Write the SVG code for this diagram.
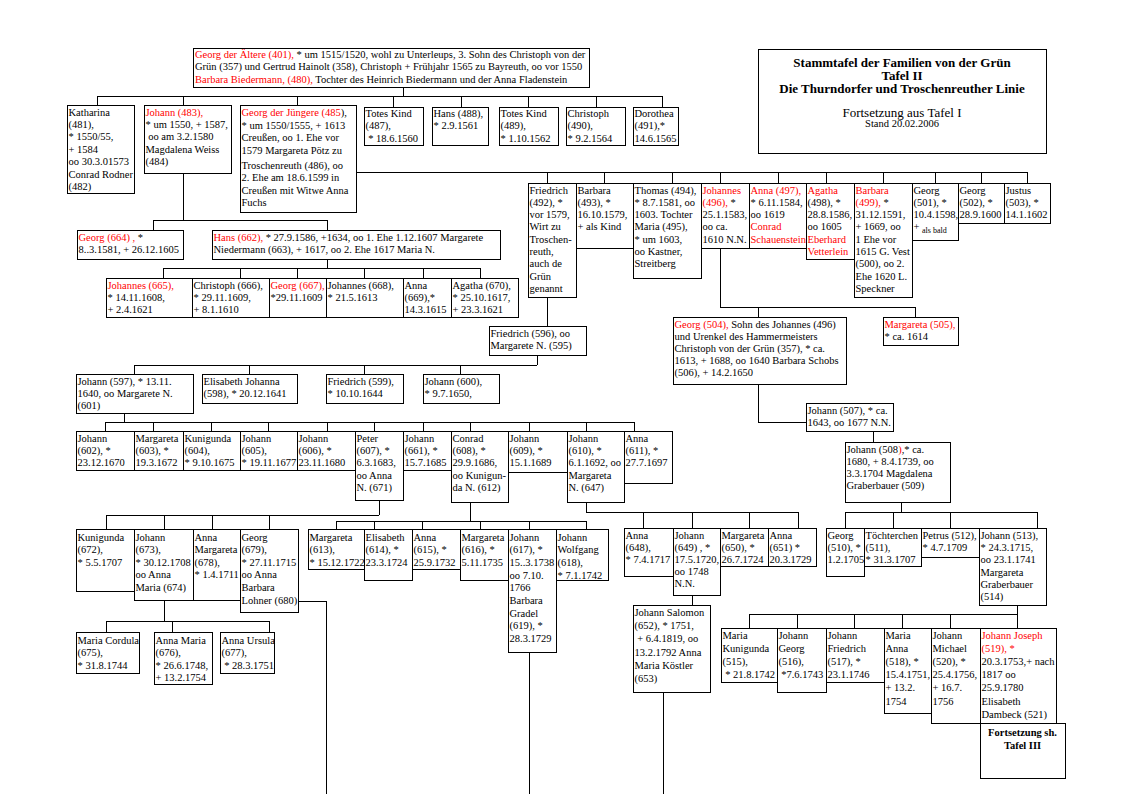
<svg xmlns="http://www.w3.org/2000/svg" width="1123" height="794" viewBox="0 0 1123 794">
<style>
text{font-family:"Liberation Serif","Times New Roman",serif;font-size:10.5px;fill:#000}
.r{fill:#f00}
.b{fill:#fff;stroke:#000;stroke-width:1;shape-rendering:crispEdges}
.c{fill:none;stroke:#000;stroke-width:1;shape-rendering:crispEdges}
.bd{font-weight:bold}
.sm{font-size:8px}
</style>
<rect width="1123" height="794" fill="#fff"/>
<g id="connectors">
<path class="c" d="M403,87V96M97,96H662M97,96V105M183,96V105M297,96V105M393,96V107M461,96V107M528,96V107M596,96V107M662,96V107
M183,173V220M153,220H327M153,220V230M327,220V230
M327,259V268M163,268H480M163,268V278M240,268V278M297,268V278M364,268V278M423,268V278M480,268V278
M356,172H1027M547,172V183M604,172V183M672,172V183M720,172V183M778,172V183M826,172V183M883,172V183M935,172V183M981,172V183M1027,172V183
M547,297V326
M537,355V365M134,365H537M134,365V374M249,365V374M364,365V374M460,365V374
M124,413V422M105,422H634M105,422V431M153,422V431M211,422V431M268,422V431M327,422V431M374,422V431M423,422V431M470,422V431M529,422V431M586,422V431M634,422V431
M379,500V515M106,515H379M106,515V529M164,515V529M212,515V529M269,515V529
M470,502V521M336,521H586M336,521V529M374,521V529M422,521V529M480,521V529M529,521V529M586,521V529
M586,502V512H798M643,512V528M692,512V528M749,512V528M798,512V528
M298,601H326V794
M529,652V794
M692,595V605
M663,692V794
M164,600V621M106,621H269M106,621V632M172,621V632M269,621V632
M720,248V307H915M758,307V317M915,307V317
M758,384V422H806
M873,431V442
M901,502V512M845,512H1037M845,512V528M893,512V528M950,512V528M1037,512V528
M1017,605V614M749,614H1017M749,614V628M797,614V628M854,614V628M902,614V628M950,614V628M1017,614V628"/>
</g>
<g id="title"><rect class="b" x="758" y="49" width="288" height="104"/>
<text x="902" y="67" text-anchor="middle" class="bd" style="font-size:13px">Stammtafel der Familien von der Grün<tspan x="902" dy="13">Tafel II</tspan><tspan x="902" dy="13">Die Thurndorfer und Troschenreuther Linie</tspan></text>
<text x="902" y="117" text-anchor="middle" style="font-size:13px">Fortsetzung aus Tafel I</text>
<text x="902" y="127" text-anchor="middle">Stand 20.02.2006</text></g>
<g id="n401"><rect class="b" x="193" y="48" width="396" height="39"/><text x="195" y="57.5"><tspan class="r">Georg der Ältere (401),</tspan> * um 1515/1520, wohl zu Unterleups, 3. Sohn des Christoph von der<tspan x="195" dy="12.5">Grün (357) und Gertrud Hainolt (358), Christoph + Frühjahr 1565 zu Bayreuth, oo vor 1550</tspan><tspan x="195" dy="12.5" class="r">Barbara Biedermann, (480),</tspan><tspan> Tochter des Heinrich Biedermann und der Anna Fladenstein</tspan></text></g>
<g id="n481"><rect class="b" x="67" y="105" width="67" height="88"/><text x="68.5" y="115.5">Katharina<tspan x="68.5" dy="12.4">(481),</tspan><tspan x="68.5" dy="12.4">* 1550/55,</tspan><tspan x="68.5" dy="12.4">+ 1584</tspan><tspan x="68.5" dy="12.4">oo 30.3.01573</tspan><tspan x="68.5" dy="12.4">Conrad Rodner</tspan><tspan x="68.5" dy="12.4">(482)</tspan></text></g>
<g id="n483"><rect class="b" x="144" y="105" width="87" height="68"/><text x="145.5" y="115.5"><tspan class="r">Johann (483),</tspan><tspan x="145.5" dy="12.4">* um 1550, + 1587,</tspan><tspan x="145.5" dy="12.4"> oo am 3.2.1580</tspan><tspan x="145.5" dy="12.4">Magdalena Weiss</tspan><tspan x="145.5" dy="12.4">(484)</tspan></text></g>
<g id="n485"><rect class="b" x="240" y="105" width="116" height="107"/><text x="241.5" y="116"><tspan class="r">Georg der Jüngere (485</tspan>),<tspan x="241.5" dy="12.5">* um 1550/1555, + 1613</tspan><tspan x="241.5" dy="12.5">Creußen, oo 1. Ehe vor</tspan><tspan x="241.5" dy="12.5">1579 Margareta Pötz zu</tspan><tspan x="241.5" dy="15">Troschenreuth (486), oo</tspan><tspan x="241.5" dy="12.5">2. Ehe am 18.6.1599 in</tspan><tspan x="241.5" dy="12.5">Creußen mit Witwe Anna</tspan><tspan x="241.5" dy="12.5">Fuchs</tspan></text></g>
<g id="n487"><rect class="b" x="364" y="107" width="59" height="38"/><text x="365.5" y="117">Totes Kind<tspan x="365.5" dy="12.4">(487),</tspan><tspan x="365.5" dy="12.4"> * 18.6.1560</tspan></text></g>
<g id="n488"><rect class="b" x="432" y="107" width="56" height="38"/><text x="433.5" y="117">Hans (488),<tspan x="433.5" dy="12.4">* 2.9.1561</tspan></text></g>
<g id="n489"><rect class="b" x="499" y="107" width="59" height="38"/><text x="500.5" y="117">Totes Kind<tspan x="500.5" dy="12.4">(489),</tspan><tspan x="500.5" dy="12.4">* 1.10.1562</tspan></text></g>
<g id="n490"><rect class="b" x="566" y="107" width="59" height="38"/><text x="567.5" y="117">Christoph<tspan x="567.5" dy="12.4">(490),</tspan><tspan x="567.5" dy="12.4">* 9.2.1564</tspan></text></g>
<g id="n491"><rect class="b" x="633" y="107" width="45" height="38"/><text x="634.5" y="117">Dorothea<tspan x="634.5" dy="12.4">(491),*</tspan><tspan x="634.5" dy="12.4">14.6.1565</tspan></text></g>
<g id="n492"><rect class="b" x="528" y="183" width="48" height="114"/><text x="529.5" y="193.5">Friedrich<tspan x="529.5" dy="12.3">(492), *</tspan><tspan x="529.5" dy="12.3">vor 1579,</tspan><tspan x="529.5" dy="12.3">Wirt zu</tspan><tspan x="529.5" dy="12.3">Troschen-</tspan><tspan x="529.5" dy="12.3">reuth,</tspan><tspan x="529.5" dy="12.3">auch de</tspan><tspan x="529.5" dy="12.3">Grün</tspan><tspan x="529.5" dy="12.3">genannt</tspan></text></g>
<g id="n493"><rect class="b" x="576" y="183" width="57" height="65"/><text x="577.5" y="193.5">Barbara<tspan x="577.5" dy="12.3">(493), *</tspan><tspan x="577.5" dy="12.3">16.10.1579,</tspan><tspan x="577.5" dy="12.3">+ als Kind</tspan></text></g>
<g id="n494"><rect class="b" x="633" y="183" width="68" height="95"/><text x="634.5" y="193.5">Thomas (494),<tspan x="634.5" dy="12.3">* 8.7.1581, oo</tspan><tspan x="634.5" dy="12.3">1603. Tochter</tspan><tspan x="634.5" dy="12.3">Maria (495),</tspan><tspan x="634.5" dy="12.3">* um 1603,</tspan><tspan x="634.5" dy="12.3">oo Kastner,</tspan><tspan x="634.5" dy="12.3">Streitberg</tspan></text></g>
<g id="n496"><rect class="b" x="701" y="183" width="48" height="65"/><text x="702.5" y="193.5"><tspan class="r">Johannes</tspan><tspan x="702.5" dy="12.3" class="r">(496),</tspan><tspan> *</tspan><tspan x="702.5" dy="12.3">25.1.1583,</tspan><tspan x="702.5" dy="12.3">oo ca.</tspan><tspan x="702.5" dy="12.3">1610 N.N.</tspan></text></g>
<g id="n497"><rect class="b" x="749" y="183" width="57" height="65"/><text x="750.5" y="193.5"><tspan class="r">Anna (497),</tspan><tspan x="750.5" dy="12.3">* 6.11.1584,</tspan><tspan x="750.5" dy="12.3">oo 1619</tspan><tspan x="750.5" dy="12.3" class="r">Conrad</tspan><tspan x="750.5" dy="12.3" class="r">Schauenstein</tspan></text></g>
<g id="n498"><rect class="b" x="806" y="183" width="48" height="76"/><text x="807.5" y="193.5"><tspan class="r">Agatha</tspan><tspan x="807.5" dy="12.3">(498), *</tspan><tspan x="807.5" dy="12.3">28.8.1586,</tspan><tspan x="807.5" dy="12.3">oo 1605</tspan><tspan x="807.5" dy="12.3" class="r">Eberhard</tspan><tspan x="807.5" dy="12.3" class="r">Vetterlein</tspan></text></g>
<g id="n499"><rect class="b" x="854" y="183" width="58" height="114"/><text x="855.5" y="193.5"><tspan class="r">Barbara</tspan><tspan x="855.5" dy="12.3" class="r">(499),</tspan><tspan> *</tspan><tspan x="855.5" dy="12.3">31.12.1591,</tspan><tspan x="855.5" dy="12.3">+ 1669, oo</tspan><tspan x="855.5" dy="12.3">1 Ehe vor</tspan><tspan x="855.5" dy="12.3">1615 G. Vest</tspan><tspan x="855.5" dy="12.3">(500), oo 2.</tspan><tspan x="855.5" dy="12.3">Ehe 1620 L.</tspan><tspan x="855.5" dy="12.3">Speckner</tspan></text></g>
<g id="n501"><rect class="b" x="912" y="183" width="46" height="57"/><text x="913.5" y="193.5">Georg<tspan x="913.5" dy="12.3">(501), *</tspan><tspan x="913.5" dy="12.3">10.4.1598,</tspan><tspan x="913.5" dy="12.3">+ </tspan><tspan class="sm" dy="3">als bald</tspan></text></g>
<g id="n502"><rect class="b" x="958" y="183" width="46" height="40"/><text x="959.5" y="193.5">Georg<tspan x="959.5" dy="12.3">(502), *</tspan><tspan x="959.5" dy="12.3">28.9.1600</tspan></text></g>
<g id="n503"><rect class="b" x="1004" y="183" width="46" height="40"/><text x="1005.5" y="193.5">Justus<tspan x="1005.5" dy="12.3">(503), *</tspan><tspan x="1005.5" dy="12.3">14.1.1602</tspan></text></g>
<g id="n664"><rect class="b" x="77" y="230" width="106" height="29"/><text x="78.5" y="240.5"><tspan class="r">Georg (664) ,</tspan> *<tspan x="78.5" dy="12.4">8..3.1581, + 26.12.1605</tspan></text></g>
<g id="n662"><rect class="b" x="212" y="230" width="288" height="29"/><text x="213.5" y="240.5"><tspan class="r">Hans (662),</tspan> * 27.9.1586, +1634, oo 1. Ehe 1.12.1607 Margarete<tspan x="213.5" dy="12.4">Niedermann (663), + 1617, oo 2. Ehe 1617 Maria N.</tspan></text></g>
<g id="n665"><rect class="b" x="106" y="278" width="86" height="39"/><text x="107.5" y="288.5"><tspan class="r">Johannes (665),</tspan><tspan x="107.5" dy="12.4">* 14.11.1608,</tspan><tspan x="107.5" dy="12.4">+ 2.4.1621</tspan></text></g>
<g id="n666"><rect class="b" x="192" y="278" width="77" height="39"/><text x="193.5" y="288.5">Christoph (666),<tspan x="193.5" dy="12.4">* 29.11.1609,</tspan><tspan x="193.5" dy="12.4">+ 8.1.1610</tspan></text></g>
<g id="n667"><rect class="b" x="269" y="278" width="57" height="39"/><text x="270.5" y="288.5"><tspan class="r">Georg (667),</tspan><tspan x="270.5" dy="12.4">*29.11.1609</tspan></text></g>
<g id="n668"><rect class="b" x="326" y="278" width="77" height="39"/><text x="327.5" y="288.5">Johannes (668),<tspan x="327.5" dy="12.4">* 21.5.1613</tspan></text></g>
<g id="n669"><rect class="b" x="403" y="278" width="48" height="39"/><text x="404.5" y="288.5">Anna<tspan x="404.5" dy="12.4">(669),*</tspan><tspan x="404.5" dy="12.4">14.3.1615</tspan></text></g>
<g id="n670"><rect class="b" x="451" y="278" width="67" height="39"/><text x="452.5" y="288.5">Agatha (670),<tspan x="452.5" dy="12.4">* 25.10.1617,</tspan><tspan x="452.5" dy="12.4">+ 23.3.1621</tspan></text></g>
<g id="n596"><rect class="b" x="489" y="326" width="97" height="29"/><text x="490.5" y="336.5">Friedrich (596), oo<tspan x="490.5" dy="12.4">Margarete N. (595)</tspan></text></g>
<g id="n504"><rect class="b" x="673" y="317" width="173" height="67"/><text x="674.5" y="327.5"><tspan class="r">Georg (504),</tspan> Sohn des Johannes (496)<tspan x="674.5" dy="12.2">und Urenkel des Hammermeisters</tspan><tspan x="674.5" dy="12.2">Christoph von der Grün (357), * ca.</tspan><tspan x="674.5" dy="12.2">1613, + 1688, oo 1640 Barbara Schobs</tspan><tspan x="674.5" dy="12.2">(506), + 14.2.1650</tspan></text></g>
<g id="n505"><rect class="b" x="883" y="317" width="75" height="28"/><text x="884.5" y="327.5"><tspan class="r">Margareta (505),</tspan><tspan x="884.5" dy="12.2">* ca. 1614</tspan></text></g>
<g id="n597"><rect class="b" x="76" y="374" width="117" height="39"/><text x="77.5" y="384.5">Johann (597), * 13.11.<tspan x="77.5" dy="12.4">1640, oo Margarete N.</tspan><tspan x="77.5" dy="12.4">(601)</tspan></text></g>
<g id="n598"><rect class="b" x="202" y="374" width="95" height="29"/><text x="203.5" y="384.5">Elisabeth Johanna<tspan x="203.5" dy="12.4">(598), * 20.12.1641</tspan></text></g>
<g id="n599"><rect class="b" x="326" y="374" width="77" height="29"/><text x="327.5" y="384.5">Friedrich (599),<tspan x="327.5" dy="12.4">* 10.10.1644</tspan></text></g>
<g id="n600"><rect class="b" x="423" y="374" width="76" height="29"/><text x="424.5" y="384.5">Johann (600),<tspan x="424.5" dy="12.4">* 9.7.1650,</tspan></text></g>
<g id="n507"><rect class="b" x="806" y="403" width="87" height="28"/><text x="807.5" y="413.5">Johann (507), * ca.<tspan x="807.5" dy="12.2">1643, oo 1677 N.N.</tspan></text></g>
<g id="n508"><rect class="b" x="845" y="442" width="105" height="60"/><text x="846.5" y="452.5">Johann (508<tspan class="r">)</tspan>,* ca.<tspan x="846.5" dy="12.2">1680, + 8.4.1739, oo</tspan><tspan x="846.5" dy="12.2">3.3.1704 Magdalena</tspan><tspan x="846.5" dy="12.2">Graberbauer (509)</tspan></text></g>
<g id="n602"><rect class="b" x="76" y="431" width="58" height="39"/><text x="77.5" y="441.5">Johann<tspan x="77.5" dy="12.4">(602), *</tspan><tspan x="77.5" dy="12.4">23.12.1670</tspan></text></g>
<g id="n603"><rect class="b" x="134" y="431" width="49" height="39"/><text x="135.5" y="441.5">Margareta<tspan x="135.5" dy="12.4">(603), *</tspan><tspan x="135.5" dy="12.4">19.3.1672</tspan></text></g>
<g id="n604"><rect class="b" x="183" y="431" width="57" height="39"/><text x="184.5" y="441.5">Kunigunda<tspan x="184.5" dy="12.4">(604),</tspan><tspan x="184.5" dy="12.4">* 9.10.1675</tspan></text></g>
<g id="n605"><rect class="b" x="240" y="431" width="57" height="39"/><text x="241.5" y="441.5">Johann<tspan x="241.5" dy="12.4">(605),</tspan><tspan x="241.5" dy="12.4">* 19.11.1677</tspan></text></g>
<g id="n606"><rect class="b" x="297" y="431" width="58" height="39"/><text x="298.5" y="441.5">Johann<tspan x="298.5" dy="12.4">(606), *</tspan><tspan x="298.5" dy="12.4">23.11.1680</tspan></text></g>
<g id="n607"><rect class="b" x="355" y="431" width="48" height="69"/><text x="356.5" y="441.5">Peter<tspan x="356.5" dy="12.4">(607), *</tspan><tspan x="356.5" dy="12.4">6.3.1683,</tspan><tspan x="356.5" dy="12.4">oo Anna</tspan><tspan x="356.5" dy="12.4">N. (671)</tspan></text></g>
<g id="n661"><rect class="b" x="403" y="431" width="48" height="39"/><text x="404.5" y="441.5">Johann<tspan x="404.5" dy="12.4">(661), *</tspan><tspan x="404.5" dy="12.4">15.7.1685</tspan></text></g>
<g id="n608"><rect class="b" x="451" y="431" width="57" height="71"/><text x="452.5" y="441.5">Conrad<tspan x="452.5" dy="12.4">(608), *</tspan><tspan x="452.5" dy="12.4">29.9.1686,</tspan><tspan x="452.5" dy="12.4">oo Kunigun-</tspan><tspan x="452.5" dy="12.4">da N. (612)</tspan></text></g>
<g id="n609"><rect class="b" x="508" y="431" width="59" height="41"/><text x="509.5" y="441.5">Johann<tspan x="509.5" dy="12.4">(609), *</tspan><tspan x="509.5" dy="12.4">15.1.1689</tspan></text></g>
<g id="n610"><rect class="b" x="567" y="431" width="57" height="71"/><text x="568.5" y="441.5">Johann<tspan x="568.5" dy="12.4">(610), *</tspan><tspan x="568.5" dy="12.4">6.1.1692, oo</tspan><tspan x="568.5" dy="12.4">Margareta</tspan><tspan x="568.5" dy="12.4">N. (647)</tspan></text></g>
<g id="n611"><rect class="b" x="624" y="431" width="48" height="52"/><text x="625.5" y="441.5">Anna<tspan x="625.5" dy="12.4">(611), *</tspan><tspan x="625.5" dy="12.4">27.7.1697</tspan></text></g>
<g id="n672"><rect class="b" x="76" y="529" width="58" height="62"/><text x="77.5" y="540.5">Kunigunda<tspan x="77.5" dy="12.6">(672),</tspan><tspan x="77.5" dy="12.6">* 5.5.1707</tspan></text></g>
<g id="n673"><rect class="b" x="134" y="529" width="59" height="71"/><text x="135.5" y="540.5">Johann<tspan x="135.5" dy="12.6">(673),</tspan><tspan x="135.5" dy="12.6">* 30.12.1708</tspan><tspan x="135.5" dy="12.6">oo Anna</tspan><tspan x="135.5" dy="12.6">Maria (674)</tspan></text></g>
<g id="n678"><rect class="b" x="193" y="529" width="47" height="71"/><text x="194.5" y="540.5">Anna<tspan x="194.5" dy="12.6">Margareta</tspan><tspan x="194.5" dy="12.6">(678),</tspan><tspan x="194.5" dy="12.6">* 1.4.1711</tspan></text></g>
<g id="n679"><rect class="b" x="240" y="529" width="58" height="83"/><text x="241.5" y="540.5">Georg<tspan x="241.5" dy="12.6">(679),</tspan><tspan x="241.5" dy="12.6">* 27.11.1715</tspan><tspan x="241.5" dy="12.6">oo Anna</tspan><tspan x="241.5" dy="12.6">Barbara</tspan><tspan x="241.5" dy="12.6">Lohner (680)</tspan></text></g>
<g id="n613"><rect class="b" x="308" y="529" width="56" height="40"/><text x="309.5" y="540.5">Margareta<tspan x="309.5" dy="12.7">(613),</tspan><tspan x="309.5" dy="12.7">* 15.12.1722</tspan></text></g>
<g id="n614"><rect class="b" x="364" y="529" width="48" height="51"/><text x="365.5" y="540.5">Elisabeth<tspan x="365.5" dy="12.7">(614), *</tspan><tspan x="365.5" dy="12.7">23.3.1724</tspan></text></g>
<g id="n615"><rect class="b" x="412" y="529" width="48" height="40"/><text x="413.5" y="540.5">Anna<tspan x="413.5" dy="12.7">(615), *</tspan><tspan x="413.5" dy="12.7">25.9.1732</tspan></text></g>
<g id="n616"><rect class="b" x="460" y="529" width="48" height="51"/><text x="461.5" y="540.5">Margareta<tspan x="461.5" dy="12.7">(616), *</tspan><tspan x="461.5" dy="12.7">5.11.1735</tspan></text></g>
<g id="n617"><rect class="b" x="508" y="529" width="48" height="123"/><text x="509.5" y="540.5">Johann<tspan x="509.5" dy="12.7">(617), *</tspan><tspan x="509.5" dy="12.7">15..3.1738</tspan><tspan x="509.5" dy="12.7">oo 7.10.</tspan><tspan x="509.5" dy="12.7">1766</tspan><tspan x="509.5" dy="12.7">Barbara</tspan><tspan x="509.5" dy="12.7">Gradel</tspan><tspan x="509.5" dy="12.7">(619), *</tspan><tspan x="509.5" dy="12.7">28.3.1729</tspan></text></g>
<g id="n618"><rect class="b" x="556" y="529" width="52" height="51"/><text x="557.5" y="540.5">Johann<tspan x="557.5" dy="12.7">Wolfgang</tspan><tspan x="557.5" dy="12.7">(618),</tspan><tspan x="557.5" dy="12.7">* 7.1.1742</tspan></text></g>
<g id="n648"><rect class="b" x="624" y="528" width="49" height="48"/><text x="625.5" y="539">Anna<tspan x="625.5" dy="12">(648),</tspan><tspan x="625.5" dy="12">* 7.4.1717</tspan></text></g>
<g id="n649"><rect class="b" x="673" y="528" width="47" height="67"/><text x="674.5" y="539">Johann<tspan x="674.5" dy="12">(649) , *</tspan><tspan x="674.5" dy="12">17.5.1720,</tspan><tspan x="674.5" dy="12">oo 1748</tspan><tspan x="674.5" dy="12">N.N.</tspan></text></g>
<g id="n650"><rect class="b" x="720" y="528" width="48" height="38"/><text x="721.5" y="539">Margareta<tspan x="721.5" dy="12">(650), *</tspan><tspan x="721.5" dy="12">26.7.1724</tspan></text></g>
<g id="n651"><rect class="b" x="768" y="528" width="48" height="38"/><text x="769.5" y="539">Anna<tspan x="769.5" dy="12">(651) *</tspan><tspan x="769.5" dy="12">20.3.1729</tspan></text></g>
<g id="n510"><rect class="b" x="826" y="528" width="38" height="48"/><text x="827.5" y="539">Georg<tspan x="827.5" dy="12">(510), *</tspan><tspan x="827.5" dy="12">1.2.1705</tspan></text></g>
<g id="n511"><rect class="b" x="864" y="528" width="57" height="38"/><text x="865.5" y="539">Töchterchen<tspan x="865.5" dy="12">(511),</tspan><tspan x="865.5" dy="12">* 31.3.1707</tspan></text></g>
<g id="n512"><rect class="b" x="921" y="528" width="58" height="29"/><text x="922.5" y="539">Petrus (512),<tspan x="922.5" dy="12">* 4.7.1709</tspan></text></g>
<g id="n513"><rect class="b" x="979" y="528" width="67" height="77"/><text x="980.5" y="539">Johann (513),<tspan x="980.5" dy="12.2">* 24.3.1715,</tspan><tspan x="980.5" dy="12.2">oo 23.1.1741</tspan><tspan x="980.5" dy="12.2">Margareta</tspan><tspan x="980.5" dy="12.2">Graberbauer</tspan><tspan x="980.5" dy="12.2">(514)</tspan></text></g>
<g id="n652"><rect class="b" x="633" y="605" width="77" height="87"/><text x="634.5" y="616">Johann Salomon<tspan x="634.5" dy="13.2">(652), * 1751,</tspan><tspan x="634.5" dy="13.2"> + 6.4.1819, oo</tspan><tspan x="634.5" dy="13.2">13.2.1792 Anna</tspan><tspan x="634.5" dy="13.2">Maria Köstler</tspan><tspan x="634.5" dy="13.2">(653)</tspan></text></g>
<g id="n675"><rect class="b" x="76" y="632" width="63" height="41"/><text x="77.5" y="643.5">Maria Cordula<tspan x="77.5" dy="12.5">(675),</tspan><tspan x="77.5" dy="12.5">* 31.8.1744</tspan></text></g>
<g id="n676"><rect class="b" x="154" y="632" width="58" height="52"/><text x="155.5" y="643.5">Anna Maria<tspan x="155.5" dy="12.5">(676),</tspan><tspan x="155.5" dy="12.5">* 26.6.1748,</tspan><tspan x="155.5" dy="12.5">+ 13.2.1754</tspan></text></g>
<g id="n677"><rect class="b" x="220" y="632" width="54" height="41"/><text x="221.5" y="643.5">Anna Ursula<tspan x="221.5" dy="12.5">(677),</tspan><tspan x="221.5" dy="12.5"> * 28.3.1751</tspan></text></g>
<g id="n515"><rect class="b" x="721" y="628" width="56" height="54"/><text x="722.5" y="638.5">Maria<tspan x="722.5" dy="13.2">Kunigunda</tspan><tspan x="722.5" dy="13.2">(515),</tspan><tspan x="722.5" dy="13.2"> * 21.8.1742</tspan></text></g>
<g id="n516"><rect class="b" x="777" y="628" width="49" height="64"/><text x="778.5" y="638.5">Johann<tspan x="778.5" dy="13.2">Georg</tspan><tspan x="778.5" dy="13.2">(516),</tspan><tspan x="778.5" dy="13.2"> *7.6.1743</tspan></text></g>
<g id="n517"><rect class="b" x="826" y="628" width="58" height="54"/><text x="827.5" y="638.5">Johann<tspan x="827.5" dy="13.2">Friedrich</tspan><tspan x="827.5" dy="13.2">(517), *</tspan><tspan x="827.5" dy="13.2">23.1.1746</tspan></text></g>
<g id="n518"><rect class="b" x="884" y="628" width="47" height="85"/><text x="885.5" y="638.5">Maria<tspan x="885.5" dy="13.2">Anna</tspan><tspan x="885.5" dy="13.2">(518), *</tspan><tspan x="885.5" dy="13.2">15.4.1751,</tspan><tspan x="885.5" dy="13.2">+ 13.2.</tspan><tspan x="885.5" dy="13.2">1754</tspan></text></g>
<g id="n520"><rect class="b" x="931" y="628" width="49" height="95"/><text x="932.5" y="638.5">Johann<tspan x="932.5" dy="13.2">Michael</tspan><tspan x="932.5" dy="13.2">(520), *</tspan><tspan x="932.5" dy="13.2">25.4.1756,</tspan><tspan x="932.5" dy="13.2">+ 16.7.</tspan><tspan x="932.5" dy="13.2">1756</tspan></text></g>
<g id="n519"><rect class="b" x="980" y="628" width="76" height="95"/><text x="981.5" y="638.5"><tspan class="r">Johann Joseph</tspan><tspan x="981.5" dy="13.2" class="r">(519), *</tspan><tspan x="981.5" dy="13.2">20.3.1753,+ nach</tspan><tspan x="981.5" dy="13.2">1817 oo</tspan><tspan x="981.5" dy="13.2">25.9.1780</tspan><tspan x="981.5" dy="13.2">Elisabeth</tspan><tspan x="981.5" dy="13.2">Dambeck (521)</tspan></text></g>
<g id="fortsetzung"><rect class="b" x="980" y="723" width="85" height="55"/><text x="1022.5" y="735.5" text-anchor="middle" class="bd">Fortsetzung sh.<tspan x="1022.5" dy="13">Tafel III</tspan></text></g>
</svg>
